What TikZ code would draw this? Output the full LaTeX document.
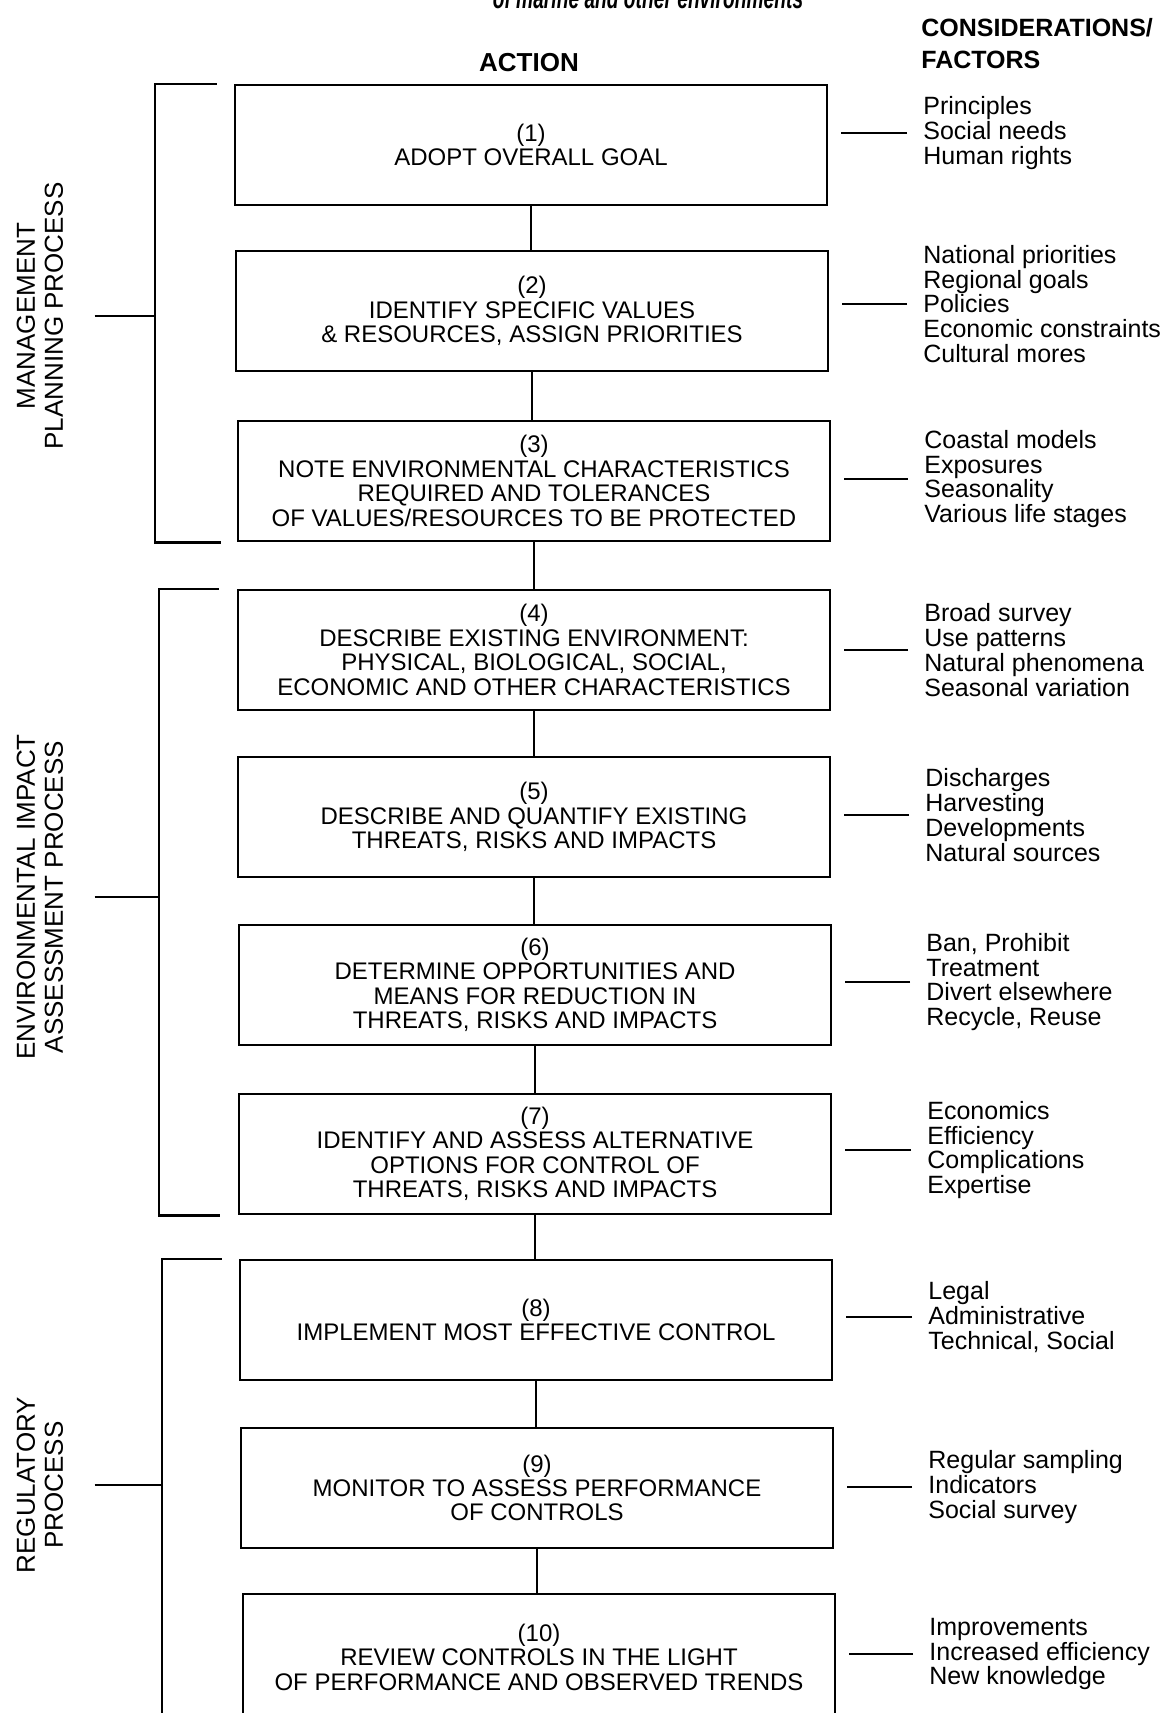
\documentclass[tikz,border=0pt]{standalone}
\usepackage{fontspec}
\setmainfont{Liberation Sans}
\usetikzlibrary{positioning}
\tikzset{
    stepbox/.style={draw, line width=1.4pt, minimum width=296pt, minimum height=60pt,
        align=center, inner sep=0pt, font=\fontsize{12}{12.2}\selectfont},
    factors/.style={anchor=west, align=left, inner xsep=8pt, inner ysep=0pt,
        font=\fontsize{12.5}{12.4}\selectfont},
    phase/.style={rotate=90, align=center, inner xsep=0pt, inner ysep=15.5pt,
        font=\fontsize{13}{14}\selectfont},
    link/.style={line width=1.1pt},
    factorlink/.style={line width=1.1pt, shorten >=6.5pt}
}

\begin{document}
\begin{tikzpicture}[x=0.5pt,y=-0.5pt]
        \useasboundingbox (0,0) rectangle (1168,1713);
        % headings
        \node[anchor=base, xscale=0.64, font=\bfseries\itshape\fontsize{15}{16}\selectfont] (title) at (648,9) {of marine and other environments};
        \node[font=\bfseries\fontsize{13}{14}\selectfont] (action) at (529,63) {ACTION};
        \node[anchor=west, align=left, inner sep=0pt, font=\bfseries\fontsize{12.5}{16}\selectfont] (considerations) at (921,44) {CONSIDERATIONS/\\FACTORS};

        % action boxes
        \node[stepbox] (b1) at (531,145) {(1)\\ADOPT OVERALL GOAL};
        \node[stepbox] (b2) at (532,311) {(2)\\IDENTIFY SPECIFIC VALUES\\\& RESOURCES, ASSIGN PRIORITIES};
        \node[stepbox] (b3) at (534,481) {(3)\\NOTE ENVIRONMENTAL CHARACTERISTICS\\REQUIRED AND TOLERANCES\\OF VALUES/RESOURCES TO BE PROTECTED};
        \node[stepbox] (b4) at (534,650) {(4)\\DESCRIBE EXISTING ENVIRONMENT:\\PHYSICAL, BIOLOGICAL, SOCIAL,\\ECONOMIC AND OTHER CHARACTERISTICS};
        \node[stepbox] (b5) at (534,817) {(5)\\DESCRIBE AND QUANTIFY EXISTING\\THREATS, RISKS AND IMPACTS};
        \node[stepbox] (b6) at (535,985) {(6)\\DETERMINE OPPORTUNITIES AND\\MEANS FOR REDUCTION IN\\THREATS, RISKS AND IMPACTS};
        \node[stepbox] (b7) at (535,1154) {(7)\\IDENTIFY AND ASSESS ALTERNATIVE\\OPTIONS FOR CONTROL OF\\THREATS, RISKS AND IMPACTS};
        \node[stepbox] (b8) at (536,1320) {(8)\\IMPLEMENT MOST EFFECTIVE CONTROL};
        \node[stepbox] (b9) at (537,1488) {(9)\\MONITOR TO ASSESS PERFORMANCE\\OF CONTROLS};
        \node[stepbox, minimum height=63pt] (b10) at (539,1657) {(10)\\REVIEW CONTROLS IN THE LIGHT\\OF PERFORMANCE AND OBSERVED TRENDS};

        \draw[link] (b1.south) -- (b1.south |- b2.north);
        \draw[link] (b2.south) -- (b2.south |- b3.north);
        \draw[link] (b3.south) -- (b3.south |- b4.north);
        \draw[link] (b4.south) -- (b4.south |- b5.north);
        \draw[link] (b5.south) -- (b5.south |- b6.north);
        \draw[link] (b6.south) -- (b6.south |- b7.north);
        \draw[link] (b7.south) -- (b7.south |- b8.north);
        \draw[link] (b8.south) -- (b8.south |- b9.north);
        \draw[link] (b9.south) -- (b9.south |- b10.north);

        % considerations / factors
        \node[factors] (f1) at (907,133) {Principles\\Social needs\\Human rights};
        \node[factors] (f2) at (907,304) {National priorities\\Regional goals\\Policies\\Economic constraints\\Cultural mores};
        \node[factors] (f3) at (908,479) {Coastal models\\Exposures\\Seasonality\\Various life stages};
        \node[factors] (f4) at (908,650) {Broad survey\\Use patterns\\Natural phenomena\\Seasonal variation};
        \node[factors] (f5) at (909,815) {Discharges\\Harvesting\\Developments\\Natural sources};
        \node[factors] (f6) at (910,982) {Ban, Prohibit\\Treatment\\Divert elsewhere\\Recycle, Reuse};
        \node[factors] (f7) at (911,1150) {Economics\\Efficiency\\Complications\\Expertise};
        \node[factors] (f8) at (912,1317) {Legal\\Administrative\\Technical, Social};
        \node[factors] (f9) at (912,1487) {Regular sampling\\Indicators\\Social survey};
        \node[factors] (f10) at (913,1654) {Improvements\\Increased efficiency\\New knowledge};

        \draw[factorlink] (f1.west) -- (f1.west -| b1.east);
        \draw[factorlink] (f2.west) -- (f2.west -| b2.east);
        \draw[factorlink] (f3.west) -- (f3.west -| b3.east);
        \draw[factorlink] (f4.west) -- (f4.west -| b4.east);
        \draw[factorlink] (f5.west) -- (f5.west -| b5.east);
        \draw[factorlink] (f6.west) -- (f6.west -| b6.east);
        \draw[factorlink] (f7.west) -- (f7.west -| b7.east);
        \draw[factorlink] (f8.west) -- (f8.west -| b8.east);
        \draw[factorlink] (f9.west) -- (f9.west -| b9.east);
        \draw[factorlink] (f10.west) -- (f10.west -| b10.east);

        % process brackets
        \coordinate (mgmtBar) at ([xshift=-39.5pt]b1.north west);
        \coordinate (eiaBar) at ([xshift=-39pt]b4.north west);
        \coordinate (regBar) at ([xshift=-38.5pt]b8.north west);
        \draw[link] ([xshift=-8.5pt]b1.north west) -- (mgmtBar) |- ([xshift=-8pt]b3.south west);
        \draw[link] ([xshift=-9pt]b4.north west) -- (eiaBar) |- ([xshift=-9pt]b7.south west);
        \draw[link] ([xshift=-8.5pt]b8.north west) -- (regBar) -- (regBar |- b10.south);

        \node[phase] (mgmt) at (40,316) {MANAGEMENT\\PLANNING PROCESS};
        \node[phase] (eia) at (40,897) {ENVIRONMENTAL IMPACT\\ASSESSMENT PROCESS};
        \node[phase] (reg) at (40,1485) {REGULATORY\\PROCESS};
        \draw[link] (mgmt.south) -- (mgmt.south -| mgmtBar);
        \draw[link] (eia.south) -- (eia.south -| eiaBar);
        \draw[link] (reg.south) -- (reg.south -| regBar);
        %\draw[link] ([xshift=-8pt]b10.south west) -- (regBar |- b10.south);
\end{tikzpicture}
\end{document}
